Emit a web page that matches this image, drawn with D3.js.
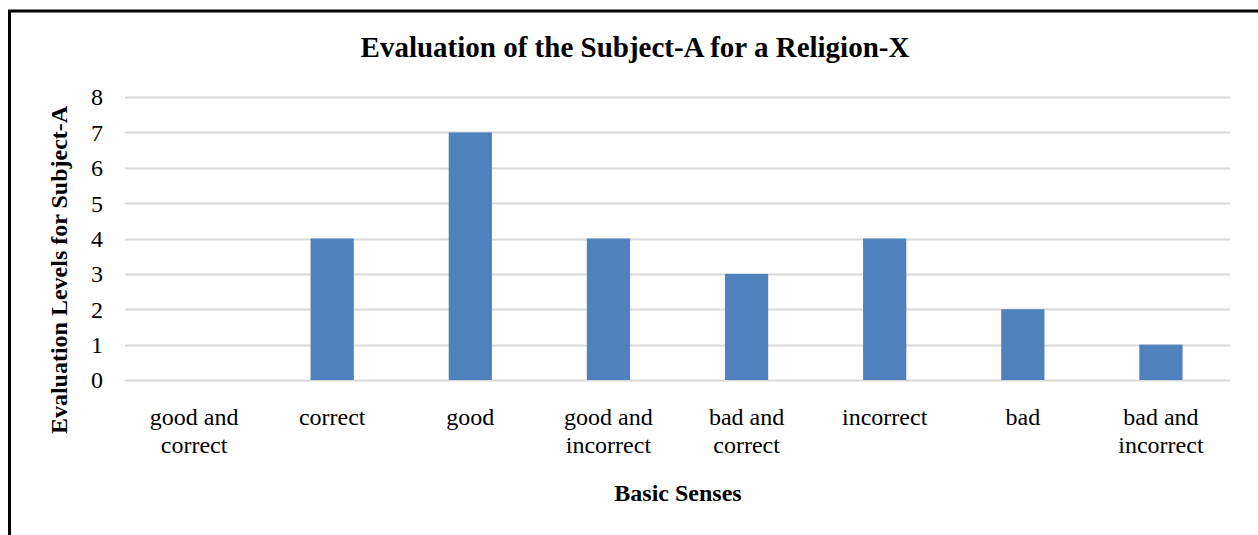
<!DOCTYPE html>
<html>
<head>
<meta charset="utf-8">
<script src="https://cdn.jsdelivr.net/npm/d3@7"></script>
<style>
  body { margin: 0; background: #fff; }
  svg { display: block; }
</style>
</head>
<body>
<div id="chart"></div>
<script>
// data
const categories = [
  ["good and", "correct"],
  ["correct"],
  ["good"],
  ["good and", "incorrect"],
  ["bad and", "correct"],
  ["incorrect"],
  ["bad"],
  ["bad and", "incorrect"]
]
const values = [0, 4, 7, 4, 3, 4, 2, 1]
const yTicks = [0, 1, 2, 3, 4, 5, 6, 7, 8]

const width = 1258, height = 535
const margin = { left: 125, right: 28, top: 97, bottom: 155 }
const font = "'Liberation Serif', 'Times New Roman', serif"

const svg = d3.select("#chart").append("svg")
  .attr("width", width)
  .attr("height", height)

// outer frame (right and bottom sides fall outside the picture)
svg.append("rect")
  .attr("x", 9.5).attr("y", 11)
  .attr("width", 1270).attr("height", 560)
  .attr("fill", "none")
  .attr("stroke", "#000")
  .attr("stroke-width", 3)

const x = d3.scaleBand()
  .domain(d3.range(categories.length))
  .range([margin.left, width - margin.right])
  .paddingInner(0.687)
  .paddingOuter(0.3435)

const y = d3.scaleLinear()
  .domain([0, 8])
  .range([height - margin.bottom, margin.top])

// gridlines
svg.append("g")
  .selectAll("line")
  .data(yTicks)
  .join("line")
    .attr("x1", margin.left)
    .attr("x2", width - margin.right)
    .attr("y1", d => Math.round(y(d)) + 0.5)
    .attr("y2", d => Math.round(y(d)) + 0.5)
    .attr("stroke", "#d9d9d9")
    .attr("stroke-width", 2)

// y tick labels
svg.append("g")
  .selectAll("text")
  .data(yTicks)
  .join("text")
    .attr("x", 103)
    .attr("y", d => y(d))
    .attr("dy", "0.35em")
    .attr("text-anchor", "end")
    .attr("font-family", font)
    .attr("font-size", 24)
    .attr("fill", "#000")
    .text(d => d)

// bars
svg.append("g")
  .selectAll("rect")
  .data(values)
  .join("rect")
    .attr("x", (d, i) => x(i))
    .attr("y", d => y(d))
    .attr("width", x.bandwidth())
    .attr("height", d => y(0) - y(d))
    .attr("fill", "#4f81bd")

// x labels
const xLabels = svg.append("g")
  .selectAll("text")
  .data(categories)
  .join("text")
    .attr("x", (d, i) => x(i) + x.bandwidth() / 2)
    .attr("y", 425)
    .attr("text-anchor", "middle")
    .attr("font-family", font)
    .attr("font-size", 24)
    .attr("fill", "#000")

xLabels.selectAll("tspan")
  .data(d => d)
  .join("tspan")
    .attr("x", function () { return this.parentNode.getAttribute("x") })
    .attr("dy", (d, i) => i === 0 ? 0 : 28)
    .text(d => d)

// title
svg.append("text")
  .attr("x", 635)
  .attr("y", 57)
  .attr("text-anchor", "middle")
  .attr("font-family", font)
  .attr("font-size", 29)
  .attr("font-weight", "bold")
  .text("Evaluation of the Subject-A for a Religion-X")

// x axis title
svg.append("text")
  .attr("x", 678)
  .attr("y", 501)
  .attr("text-anchor", "middle")
  .attr("font-family", font)
  .attr("font-size", 24)
  .attr("font-weight", "bold")
  .text("Basic Senses")

// y axis title
svg.append("text")
  .attr("transform", "translate(67,270) rotate(-90)")
  .attr("text-anchor", "middle")
  .attr("font-family", font)
  .attr("font-size", 24)
  .attr("font-weight", "bold")
  .text("Evaluation Levels for Subject-A")
</script>
</body>
</html>
